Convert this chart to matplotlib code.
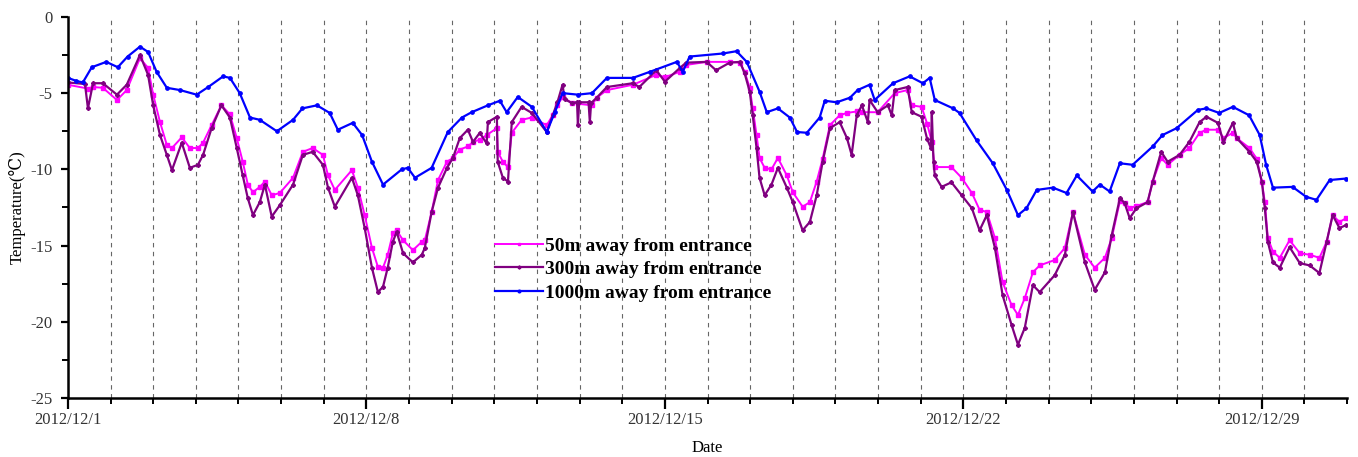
import matplotlib
matplotlib.use("Agg")
import matplotlib.pyplot as plt
from matplotlib.ticker import MultipleLocator

# Days since 2012/12/1 (0 = 2012/12/1 00:00), temperatures in deg C
days_50 = [0, 0.47, 0.59, 0.82, 1.15, 1.38, 1.69, 1.88, 2.0, 2.16, 2.32, 2.44, 2.67, 2.86, 3.05, 3.17,
           3.37, 3.6, 3.8, 3.96, 4.1, 4.22, 4.34, 4.5, 4.62, 4.78, 4.97, 5.28, 5.51, 5.74, 5.98, 6.1,
           6.26, 6.66, 6.8, 6.96, 7.13, 7.27, 7.39, 7.5, 7.62, 7.71, 7.86, 8.09, 8.3, 8.37, 8.53, 8.68,
           8.89, 9.03, 9.19, 9.38, 9.5, 9.66, 9.82, 10.06, 10.08, 10.2, 10.32, 10.41, 10.64, 10.88,
           11.23, 11.37, 11.48, 11.6, 11.82, 12.29, 12.4, 12.64, 13.25, 13.8, 14.0, 14.35, 14.5, 14.98,
           15.52, 15.76, 15.87, 15.99, 16.06, 16.15, 16.22, 16.34, 16.5, 16.65, 16.86, 17.0, 17.23,
           17.4, 17.56, 17.7, 17.87, 18.1, 18.27, 18.5, 18.62, 18.99, 19.39, 19.69, 19.79, 20.02,
           20.15, 20.26, 20.33, 20.72, 20.96, 21.2, 21.38, 21.55, 21.74, 21.92, 22.13, 22.28, 22.44,
           22.63, 22.79, 23.14, 23.38, 23.57, 23.85, 24.08, 24.32, 24.48, 24.67, 24.78, 24.9, 25.06,
           25.32, 25.44, 25.64, 25.79, 26.07, 26.3, 26.54, 26.7, 26.97, 27.1, 27.32, 27.41, 27.71,
           27.88, 28.0, 28.07, 28.14, 28.26, 28.42, 28.65, 28.89, 29.12, 29.35, 29.52, 29.66, 29.82,
           29.98]
temp_50 = [-4.45, -4.7, -4.6, -4.65, -5.45, -4.8, -2.7, -3.35, -5.1, -6.9, -8.4, -8.6, -7.9, -8.6,
           -8.6, -8.25, -7.1, -5.8, -6.4, -7.95, -9.5, -11.0, -11.5, -11.15, -10.8, -11.7, -11.55,
           -10.55, -8.85, -8.6, -9.05, -10.4, -11.35, -10.05, -11.2, -13.0, -15.15, -16.4, -16.45,
           -15.6, -14.2, -14.0, -14.65, -15.3, -14.75, -14.65, -12.8, -10.7, -9.5, -9.25, -8.7, -8.5,
           -8.2, -8.05, -7.75, -7.3, -8.85, -9.5, -9.85, -7.6, -6.75, -6.6, -7.1, -6.45, -5.8, -5.25,
           -5.65, -5.8, -5.3, -4.8, -4.45, -3.8, -3.95, -3.6, -3.15, -2.95, -2.95, -3.0, -3.6, -4.65,
           -6.0, -7.75, -9.25, -9.9, -10.0, -9.25, -10.4, -11.5, -12.45, -12.15, -10.8, -9.3, -7.1,
           -6.45, -6.3, -6.2, -6.25, -6.25, -5.0, -4.8, -5.8, -5.9, -7.0, -8.2, -9.85, -9.85, -10.55,
           -11.55, -12.65, -12.8, -14.5, -17.4, -18.9, -19.55, -18.45, -16.75, -16.3, -15.95, -15.15,
           -12.8, -15.6, -16.45, -15.8, -14.5, -12.1, -12.2, -12.55, -12.4, -12.15, -10.8, -9.25,
           -9.7, -9.05, -8.6, -7.6, -7.4, -7.4, -7.95, -7.6, -7.95, -8.6, -9.3, -10.8, -12.15, -14.5,
           -15.4, -15.8, -14.65, -15.5, -15.6, -15.8, -14.75, -13.0, -13.45, -13.2]

days_300 = [0, 0.4, 0.47, 0.59, 0.82, 1.15, 1.38, 1.69, 1.88, 2.0, 2.16, 2.32, 2.44, 2.67, 2.86, 3.05,
            3.17, 3.37, 3.6, 3.8, 3.96, 4.1, 4.22, 4.34, 4.5, 4.62, 4.78, 4.97, 5.28, 5.51, 5.74, 5.98,
            6.1, 6.26, 6.66, 6.8, 6.96, 7.13, 7.27, 7.39, 7.5, 7.62, 7.71, 7.86, 8.09, 8.3, 8.37, 8.53,
            8.68, 8.89, 9.03, 9.19, 9.38, 9.5, 9.66, 9.82, 9.85, 10.06, 10.08, 10.2, 10.32, 10.41,
            10.64, 10.88, 11.23, 11.37, 11.48, 11.6, 11.65, 11.82, 11.94, 11.96, 11.99, 12.21, 12.24,
            12.27, 12.4, 12.64, 13.25, 13.4, 13.8, 14.0, 14.35, 14.5, 14.98, 15.2, 15.52, 15.76, 15.87,
            15.99, 16.06, 16.15, 16.22, 16.34, 16.5, 16.65, 16.86, 17.0, 17.23, 17.4, 17.56, 17.7,
            17.87, 18.1, 18.27, 18.38, 18.5, 18.62, 18.76, 18.8, 18.99, 19.23, 19.32, 19.39, 19.69,
            19.79, 20.02, 20.15, 20.24, 20.26, 20.3, 20.33, 20.49, 20.72, 20.96, 21.2, 21.38, 21.55,
            21.74, 21.92, 22.13, 22.28, 22.44, 22.63, 22.79, 23.14, 23.38, 23.57, 23.85, 24.08, 24.32,
            24.48, 24.67, 24.78, 24.9, 25.06, 25.32, 25.44, 25.64, 25.79, 26.07, 26.3, 26.54, 26.7,
            26.97, 27.1, 27.32, 27.41, 27.71, 27.88, 28.0, 28.07, 28.14, 28.26, 28.42, 28.65, 28.89,
            29.12, 29.35, 29.52, 29.66, 29.82, 29.98]
temp_300 = [-4.3, -4.4, -6.0, -4.35, -4.35, -5.1, -4.45, -2.5, -3.8, -5.8, -7.75, -9.05, -10.05,
            -8.25, -9.9, -9.7, -9.05, -7.3, -5.8, -6.6, -8.6, -10.4, -11.9, -13.0, -12.15, -11.0,
            -13.1, -12.35, -11.0, -9.05, -8.85, -9.7, -11.2, -12.45, -10.55, -11.7, -13.85, -16.45,
            -18.05, -17.7, -16.45, -14.75, -14.1, -15.5, -16.1, -15.6, -15.15, -12.8, -11.2, -9.9,
            -9.25, -7.95, -7.4, -8.2, -7.6, -8.3, -6.9, -6.55, -9.5, -10.55, -10.8, -6.9, -5.9, -6.3,
            -7.55, -6.45, -5.6, -4.45, -5.4, -5.65, -5.6, -7.1, -5.6, -5.6, -6.9, -5.65, -5.3, -4.6,
            -4.35, -4.6, -3.5, -4.25, -3.35, -3.0, -2.95, -3.5, -3.0, -2.95, -3.7, -4.9, -6.45, -8.6,
            -10.55, -11.7, -11.0, -9.9, -11.2, -12.15, -14.0, -13.45, -11.7, -9.5, -7.3, -6.9, -7.95,
            -9.05, -6.45, -5.8, -6.9, -5.45, -6.25, -5.8, -6.45, -4.8, -4.6, -6.25, -6.55, -8.0, -8.6,
            -6.25, -9.5, -10.4, -11.15, -10.85, -11.7, -12.55, -14.0, -13.0, -15.15, -18.25, -20.2,
            -21.5, -20.4, -17.6, -18.05, -16.95, -15.6, -12.8, -16.1, -17.9, -16.75, -14.3, -11.9,
            -12.2, -13.2, -12.55, -12.15, -10.8, -8.85, -9.5, -9.05, -8.2, -6.9, -6.55, -6.95, -8.2,
            -6.95, -7.95, -8.85, -9.5, -10.8, -12.55, -14.75, -16.1, -16.45, -15.1, -16.15, -16.3,
            -16.8, -14.75, -13.0, -13.85, -13.65]

days_1000 = [0, 0.2, 0.35, 0.56, 0.9, 1.17, 1.4, 1.69, 1.88, 2.08, 2.32, 2.63, 3.02, 3.29, 3.64, 3.8,
             4.03, 4.27, 4.5, 4.9, 5.28, 5.5, 5.84, 6.14, 6.33, 6.68, 6.9, 7.13, 7.39, 7.83, 7.97,
             8.14, 8.53, 8.91, 9.24, 9.47, 9.85, 10.13, 10.29, 10.55, 10.88, 11.23, 11.42, 11.6,
             11.96, 12.29, 12.64, 13.25, 13.65, 14.28, 14.42, 14.58, 15.36, 15.68, 15.92, 16.22,
             16.39, 16.65, 16.93, 17.1, 17.33, 17.63, 17.75, 18.03, 18.34, 18.52, 18.8, 18.92, 19.35,
             19.74, 20.05, 20.21, 20.33, 20.76, 20.91, 21.31, 21.69, 22.02, 22.28, 22.48, 22.72, 23.1,
             23.42, 23.66, 24.03, 24.2, 24.43, 24.67, 24.97, 25.44, 25.67, 26.0, 26.5, 26.7, 27.0,
             27.32, 27.7, 27.95, 28.1, 28.26, 28.72, 29.04, 29.28, 29.59, 29.98]
temp_1000 = [-4.0, -4.2, -4.3, -3.3, -2.95, -3.3, -2.6, -1.95, -2.3, -3.6, -4.65, -4.8, -5.1, -4.6,
             -3.9, -4.0, -5.0, -6.6, -6.75, -7.5, -6.75, -6.0, -5.8, -6.3, -7.4, -6.95, -7.75, -9.5,
             -11.0, -10.0, -9.9, -10.55, -9.9, -7.55, -6.6, -6.25, -5.8, -5.5, -6.25, -5.25, -5.9,
             -7.55, -6.25, -5.0, -5.1, -5.0, -4.0, -4.0, -3.6, -2.95, -3.6, -2.6, -2.4, -2.25, -2.95,
             -4.9, -6.25, -6.0, -6.6, -7.55, -7.6, -6.6, -5.5, -5.6, -5.3, -4.8, -4.45, -5.45, -4.35,
             -3.9, -4.35, -4.0, -5.45, -6.0, -6.3, -8.1, -9.6, -11.35, -13.0, -12.55, -11.35, -11.2,
             -11.55, -10.4, -11.45, -11.0, -11.45, -9.6, -9.7, -8.5, -7.75, -7.3, -6.1, -6.0, -6.3,
             -5.9, -6.45, -7.75, -9.7, -11.2, -11.15, -11.8, -12.0, -10.7, -10.6]

tick_days = [0, 7, 14, 21, 28]
tick_labels = ["2012/12/1", "2012/12/8", "2012/12/15", "2012/12/22", "2012/12/29"]

plt.rcParams["font.family"] = ["Liberation Serif", "DejaVu Serif"]
plt.rcParams["axes.unicode_minus"] = False

fig = plt.figure(figsize=(13.58, 4.57), dpi=100)
ax = fig.add_axes([0.050, 0.129, 0.942, 0.834])

# dashed day separators
for d in range(1, 30):
    ax.axvline(d, color="#666666", linestyle=(0, (4, 4)), linewidth=0.8, zorder=0)

ax.plot(days_50, temp_50, color="#ff00ff", linewidth=1.4, marker="s", markersize=2.2,
        label="50m away from entrance")
ax.plot(days_300, temp_300, color="#800080", linewidth=1.6, marker="P", markersize=2.6,
        label="300m away from entrance")
ax.plot(days_1000, temp_1000, color="#0000ff", linewidth=1.6, marker="o", markersize=2.4,
        label="1000m away from entrance")

ax.set_xlim(0, 30)
ax.set_ylim(-25, 0)
ax.set_xticks(tick_days)
ax.set_xticklabels(tick_labels)
ax.xaxis.set_minor_locator(MultipleLocator(1))
ax.yaxis.set_major_locator(MultipleLocator(5))
ax.yaxis.set_minor_locator(MultipleLocator(2.5))

ax.spines["top"].set_visible(False)
ax.spines["right"].set_visible(False)
ax.spines["left"].set_linewidth(1.8)
ax.spines["bottom"].set_linewidth(1.8)
ax.tick_params(which="major", direction="out", width=1.6, labelsize=12, labelcolor="#333333")
ax.tick_params(axis="x", which="major", length=8, pad=2)
ax.tick_params(axis="y", which="major", length=5, pad=6)
ax.tick_params(which="minor", direction="out", length=4, width=1.4)

ax.set_xlabel("Date", fontsize=12, labelpad=9)
ax.set_ylabel("Temperature(℃)", fontsize=12, labelpad=3)

ax.legend(loc="upper left", bbox_to_anchor=(0.32, 0.468), frameon=False,
          prop={"weight": "bold", "size": 14}, handlelength=2.5, handletextpad=0.1,
          labelspacing=0.3, markerscale=0.8)

fig.savefig("out.png", dpi=100)
